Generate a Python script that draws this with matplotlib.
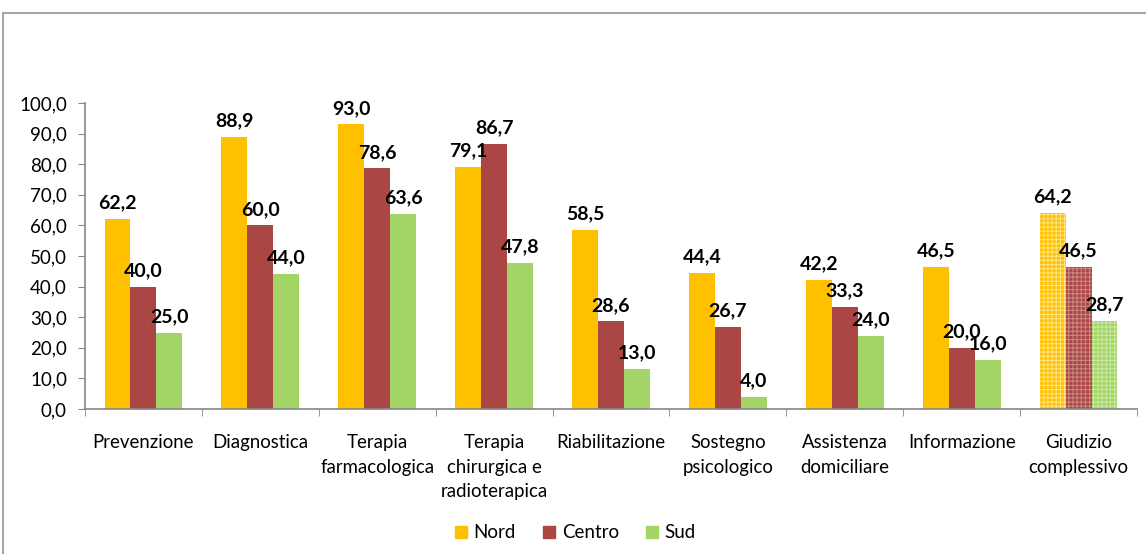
import matplotlib
matplotlib.use("Agg")
import matplotlib.pyplot as plt
import numpy as np
from matplotlib.lines import Line2D

CATEGORIES = ["Prevenzione", "Diagnostica", "Terapia\nfarmacologica",
              "Terapia\nchirurgica e\nradioterapica", "Riabilitazione",
              "Sostegno\npsicologico", "Assistenza\ndomiciliare", "Informazione",
              "Giudizio\ncomplessivo"]
NORD = [62.2, 88.9, 93.0, 79.1, 58.5, 44.4, 42.2, 46.5, 64.2]
CENTRO = [40.0, 60.0, 78.6, 86.7, 28.6, 26.7, 33.3, 20.0, 46.5]
SUD = [25.0, 44.0, 63.6, 47.8, 13.0, 4.0, 24.0, 16.0, 28.7]
SERIES = ["Nord", "Centro", "Sud"]
YTICKS = [0, 10, 20, 30, 40, 50, 60, 70, 80, 90, 100]

COLORS = ["#FFC000", "#AA4643", "#A2D466"]
HATCH_COLORS = ["#FFE27A", "#C98580", "#C8E8A0"]

plt.rcParams["font.family"] = ["Lato", "DejaVu Sans"]
plt.rcParams["hatch.linewidth"] = 0.8

fig = plt.figure(figsize=(11.46, 5.54), dpi=100)
ax = fig.add_axes([85 / 1146, 1 - 409 / 554, (1137 - 85) / 1146, (409 - 103) / 554])

x = np.arange(len(CATEGORIES))
w = 0.222
n = len(CATEGORIES)
for k, (vals, col, hcol) in enumerate(zip((NORD, CENTRO, SUD), COLORS, HATCH_COLORS)):
    xs = x + (k - 1) * w
    # plain bars for the first categories, hatched for the overall judgement
    ax.bar(xs[:-1], vals[:-1], width=w, color=col, linewidth=0, label=SERIES[k])
    ax.bar(xs[-1:], vals[-1:], width=w, color=col, edgecolor=hcol, linewidth=0, hatch="++++")
    for xi, v in zip(xs, vals):
        ax.annotate(f"{v:.1f}".replace(".", ","), (xi, v), xytext=(0, 5.5), textcoords="offset points",
                    ha="center", va="bottom", fontsize=14, fontweight="bold", color="#000000")

ax.set_xlim(-0.5, n - 0.5)
ax.set_ylim(0, 100)
ax.set_yticks(YTICKS)
ax.set_yticklabels([f"{t:.1f}".replace(".", ",") for t in YTICKS], fontsize=13.5)
ax.set_xticks(x)
ax.set_xticklabels(CATEGORIES, fontsize=13.4, linespacing=1.55, va="top")
ax.set_xticks(np.arange(n + 1) - 0.5, minor=True)
ax.tick_params(axis="x", which="major", length=0, pad=18)
ax.tick_params(axis="x", which="minor", length=5, color="#868686", direction="out")
ax.tick_params(axis="y", length=5, color="#868686", direction="out", pad=8)
for s in ("top", "right"):
    ax.spines[s].set_visible(False)
for s in ("left", "bottom"):
    ax.spines[s].set_color("#868686")
    ax.spines[s].set_linewidth(1.2)

handles = [plt.Rectangle((0, 0), 1, 1, color=c) for c in COLORS]
fig.legend(handles, SERIES, loc="center", bbox_to_anchor=(0.502, 1 - 533 / 554), ncol=3,
           frameon=False, fontsize=13.5, handlelength=0.65, handleheight=0.65,
           handletextpad=0.35, columnspacing=1.45)

# outer chart frame
fy = 1 - 13 / 554
fx = 3 / 1146
fig.add_artist(Line2D([fx, 1], [fy, fy], transform=fig.transFigure, color="#a6a6a6", lw=1.5))
fig.add_artist(Line2D([fx, fx], [0, fy], transform=fig.transFigure, color="#a6a6a6", lw=1.5))

fig.savefig("out.png", dpi=100)
